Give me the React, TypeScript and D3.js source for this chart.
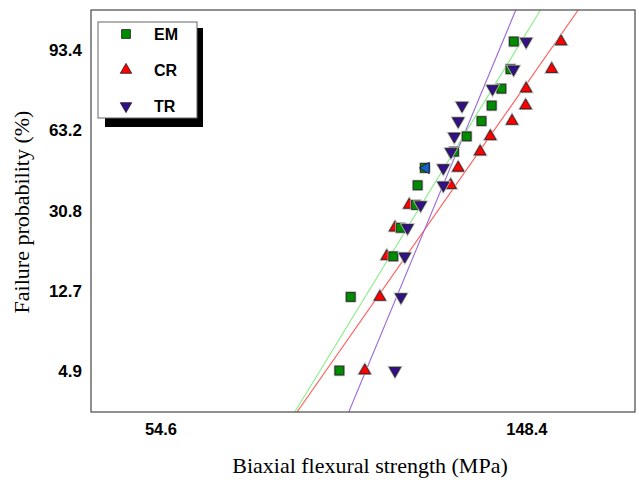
import React, { useEffect, useRef } from 'react';
import * as d3 from 'd3';

// biaxial flexural strength (MPa), sorted, one value per rank
const strengthEM = [88.9, 91.7, 103.0, 105.1, 109.6, 110.1, 112.3, 121.6, 125.9, 131.1, 134.8, 138.4, 141.9, 143.2];
const strengthCR = [95.3, 99.3, 101.2, 103.5, 107.6, 120.5, 123.0, 130.6, 134.3, 142.5, 147.9, 148.1, 158.8, 162.9];
const strengthTR = [103.5, 105.2, 106.3, 107.1, 111.0, 118.1, 118.1, 120.6, 121.7, 123.0, 124.3, 135.1, 143.1, 148.1];
// failure probability (%) of each rank
const failProb = [4.9, 11.8, 18.8, 25.7, 32.6, 39.6, 46.5, 53.5, 60.4, 67.4, 74.3, 81.3, 88.2, 95.1];

// fitted Weibull lines: modulus and characteristic strength
const seriesNames = ['EM', 'CR', 'TR'];
const weibullM = [7.45, 6.51, 10.96];
const weibullS0 = [126.0, 135.7, 125.6];

const xTicks = [54.6, 148.4];
const yTicks = [4.9, 12.7, 30.8, 63.2, 93.4];

// stray marker sitting on top of one EM point
const strayMarker = [{ s: 112.3, p: 46.5 }];

const W = 639;
const H = 480;

const weib = (p: number) => Math.log(-Math.log(1 - p / 100));

const App = () => {
	const node = useRef<SVGSVGElement>(null);

	useEffect(() => {
		const svg = d3.select(node.current);
		svg.selectAll('*').remove();

		const left = 91, right = 635, top = 10, bottom = 412;

		const x = d3.scaleLog().domain([45.1, 199.4]).range([left, right]);
		const y = d3.scaleLinear().domain([-3.506, 1.496]).range([bottom, top]);

		svg.append('defs').append('clipPath').attr('id', 'plotclip')
			.append('rect')
			.attr('x', left).attr('y', top)
			.attr('width', right - left).attr('height', bottom - top);

		svg.append('rect')
			.attr('x', 0).attr('y', 0).attr('width', W).attr('height', H)
			.attr('fill', '#fff');

		// fitted lines
		const lineColors = ['#88ee88', '#ff5a5a', '#9a6ad8'];
		const lines = svg.append('g').attr('clip-path', 'url(#plotclip)');
		weibullM.forEach((m, i) => {
			const v0 = y.domain()[0], v1 = y.domain()[1];
			const lx = (v: number) => Math.exp(Math.log(weibullS0[i]) + v / m);
			lines.append('line')
				.attr('x1', x(lx(v0))).attr('y1', y(v0))
				.attr('x2', x(lx(v1))).attr('y2', y(v1))
				.attr('stroke', lineColors[i])
				.attr('stroke-width', 1.1);
		});

		const square = d3.symbol().type(d3.symbolSquare).size(78)();
		const tri = d3.symbol().type(d3.symbolTriangle).size(56)();

		const drawMarks = (data: number[], shape: string | null, rot: number, fill: string) => {
			const g = svg.append('g');
			data.forEach((s, i) => {
				const t = 'translate(' + x(s) + ',' + y(weib(failProb[i])) + ') rotate(' + rot + ')';
				g.append('path').attr('d', shape).attr('transform', t)
					.attr('fill', 'none').attr('stroke', '#b8b8b8').attr('stroke-width', 2.4);
				g.append('path').attr('d', shape).attr('transform', t)
					.attr('fill', fill).attr('stroke', '#1a1a1a').attr('stroke-width', 0.8);
			});
		};

		drawMarks(strengthCR, tri, 0, '#ff0000');
		drawMarks(strengthEM, square, 0, '#008c00');
		drawMarks(strengthTR, tri, 180, '#33108a');

		strayMarker.forEach(d => {
			svg.append('path').attr('d', tri)
				.attr('transform', 'translate(' + (x(d.s) + 1) + ',' + y(weib(d.p)) + ') rotate(-90)')
				.attr('fill', '#1a5fd0').attr('stroke', '#1a1a1a').attr('stroke-width', 0.8);
		});

		// frame
		svg.append('rect')
			.attr('x', left).attr('y', top)
			.attr('width', right - left).attr('height', bottom - top)
			.attr('fill', 'none').attr('stroke', '#555').attr('stroke-width', 1.3);

		// tick labels
		svg.append('g').selectAll('text').data(xTicks).enter().append('text')
			.attr('x', d => x(d)).attr('y', 435)
			.attr('text-anchor', 'middle')
			.style('font-family', '"Liberation Sans", Arial, sans-serif')
			.style('font-weight', 'bold').style('font-size', '16.5px')
			.text(d => d.toFixed(1));

		svg.append('g').selectAll('text').data(yTicks).enter().append('text')
			.attr('x', 82).attr('y', d => y(weib(d)))
			.attr('dy', '0.36em')
			.attr('text-anchor', 'end')
			.style('font-family', '"Liberation Sans", Arial, sans-serif')
			.style('font-weight', 'bold').style('font-size', '17px')
			.text(d => d.toFixed(1));

		// axis titles
		svg.append('text')
			.attr('x', 370).attr('y', 473)
			.attr('text-anchor', 'middle')
			.style('font-family', '"Liberation Serif", "Times New Roman", serif')
			.style('font-size', '22px')
			.text('Biaxial flexural strength (MPa)');

		svg.append('text')
			.attr('transform', 'translate(29,212) rotate(-90)')
			.attr('text-anchor', 'middle')
			.style('font-family', '"Liberation Serif", "Times New Roman", serif')
			.style('font-size', '22px')
			.text('Failure probability (%)');

		// legend with drop shadow
		const lg = svg.append('g');
		lg.append('rect').attr('x', 105).attr('y', 28).attr('width', 98).attr('height', 99).attr('fill', '#000');
		lg.append('rect').attr('x', 98).attr('y', 22).attr('width', 99).attr('height', 96)
			.attr('fill', '#fff').attr('stroke', '#666').attr('stroke-width', 1);

		const legShapes = [square, tri, tri];
		const legRot = [0, 0, 180];
		const legFill = ['#008c00', '#ff0000', '#33108a'];
		seriesNames.forEach((name, i) => {
			const ly = 34 + i * 36;
			lg.append('path').attr('d', legShapes[i])
				.attr('transform', 'translate(126,' + ly + ') rotate(' + legRot[i] + ')')
				.attr('fill', legFill[i]).attr('stroke', '#1a1a1a').attr('stroke-width', 0.8);
			lg.append('text')
				.attr('x', 154).attr('y', ly).attr('dy', '0.36em')
				.style('font-family', '"Liberation Sans", Arial, sans-serif')
				.style('font-weight', 'bold').style('font-size', '16px')
				.text(name);
		});
	}, []);

	return (
		<svg ref={node} width={W} height={H} style={{ position: 'absolute', left: 0, top: 0 }} />
	);
};

export default App;
